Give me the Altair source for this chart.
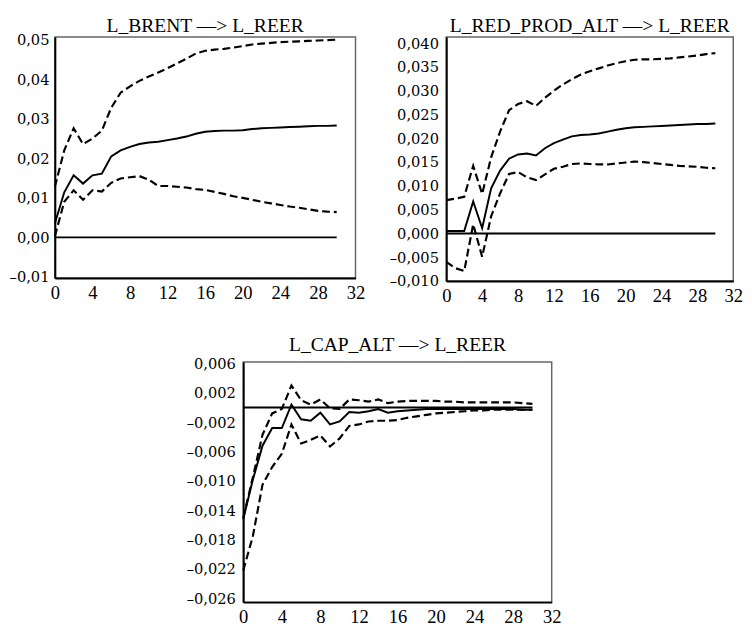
import altair as alt
import pandas as pd

FONT = "Liberation Serif"
YFONT = "DejaVu Serif"
steps = list(range(31))
x_ticks = [0, 4, 8, 12, 16, 20, 24, 28, 32]

# Panel 1: L_BRENT -> L_REER
brent_title = "L_BRENT —> L_REER"
brent_irf = [0.0035, 0.0114, 0.0157, 0.0136, 0.0157, 0.0161, 0.0205, 0.0220, 0.0229, 0.0236,
             0.0240, 0.0242, 0.0246, 0.0250, 0.0255, 0.0262, 0.0267, 0.0269, 0.0270, 0.0270,
             0.0271, 0.0274, 0.0276, 0.0277, 0.0278, 0.0279, 0.0280, 0.0281, 0.0282, 0.0282, 0.0283]
brent_hi = [0.0128, 0.0220, 0.0276, 0.0236, 0.0250, 0.0270, 0.0328, 0.0366, 0.0382, 0.0396,
            0.0407, 0.0417, 0.0428, 0.0440, 0.0452, 0.0465, 0.0472, 0.0475, 0.0477, 0.0480,
            0.0484, 0.0488, 0.0490, 0.0492, 0.0494, 0.0495, 0.0496, 0.0497, 0.0498, 0.0499, 0.0500]
brent_lo = [0.0003, 0.0090, 0.0119, 0.0095, 0.0119, 0.0116, 0.0138, 0.0149, 0.0152, 0.0155,
            0.0146, 0.0130, 0.0130, 0.0128, 0.0126, 0.0122, 0.0120, 0.0115, 0.0110, 0.0104,
            0.0100, 0.0095, 0.0090, 0.0086, 0.0082, 0.0078, 0.0075, 0.0071, 0.0067, 0.0065, 0.0064]
brent_yticks = [-0.01, 0.0, 0.01, 0.02, 0.03, 0.04, 0.05]

# Panel 2: L_RED_PROD_ALT -> L_REER
prod_title = "L_RED_PROD_ALT —> L_REER"
prod_irf = [0.0005, 0.0005, 0.0005, 0.0067, 0.0011, 0.0095, 0.0132, 0.0157, 0.0166, 0.0168,
            0.0164, 0.0179, 0.0190, 0.0197, 0.0204, 0.0207, 0.0208, 0.0210, 0.0214, 0.0218,
            0.0221, 0.0223, 0.0224, 0.0225, 0.0226, 0.0227, 0.0228, 0.0229, 0.0230, 0.0230, 0.0231]
prod_hi = [0.0070, 0.0073, 0.0077, 0.0142, 0.0083, 0.0160, 0.0214, 0.0259, 0.0272, 0.0278,
           0.0268, 0.0285, 0.0300, 0.0313, 0.0324, 0.0334, 0.0341, 0.0347, 0.0353, 0.0358,
           0.0362, 0.0365, 0.0366, 0.0366, 0.0367, 0.0368, 0.0370, 0.0372, 0.0374, 0.0377, 0.0379]
prod_lo = [-0.0060, -0.0073, -0.0079, 0.0019, -0.0049, 0.0036, 0.0084, 0.0125, 0.0129, 0.0118,
           0.0112, 0.0124, 0.0136, 0.0140, 0.0146, 0.0147, 0.0146, 0.0145, 0.0145, 0.0147,
           0.0149, 0.0151, 0.0150, 0.0148, 0.0146, 0.0144, 0.0142, 0.0141, 0.0140, 0.0138, 0.0137]
prod_yticks = [-0.010, -0.005, 0.0, 0.005, 0.010, 0.015, 0.020, 0.025, 0.030, 0.035, 0.040]

# Panel 3: L_CAP_ALT -> L_REER
cap_title = "L_CAP_ALT —> L_REER"
cap_irf = [-0.0152, -0.0098, -0.0052, -0.0028, -0.0028, 0.0004, -0.0016, -0.0018, -0.0007, -0.0023,
           -0.0019, -0.0006, -0.0007, -0.0005, -0.0002, -0.0007, -0.0005, -0.0004, -0.0003, -0.0002,
           -0.0002, -0.0002, -0.0002, -0.0002, -0.0002, -0.0002, -0.0002, -0.0002, -0.0002, -0.0003, -0.0003]
cap_hi = [-0.0150, -0.0095, -0.0037, -0.0008, -0.0002, 0.0030, 0.0010, 0.0004, 0.0011, -0.0001,
          -0.0002, 0.0011, 0.0010, 0.0008, 0.0011, 0.0006, 0.0008, 0.0009, 0.0009, 0.0009,
          0.0009, 0.0008, 0.0008, 0.0007, 0.0007, 0.0007, 0.0007, 0.0007, 0.0007, 0.0006, 0.0005]
cap_lo = [-0.0222, -0.0175, -0.0105, -0.0081, -0.0063, -0.0023, -0.0049, -0.0044, -0.0038, -0.0053,
          -0.0042, -0.0025, -0.0023, -0.0019, -0.0018, -0.0018, -0.0017, -0.0014, -0.0012, -0.0010,
          -0.0008, -0.0007, -0.0006, -0.0005, -0.0004, -0.0004, -0.0003, -0.0003, -0.0003, -0.0003, -0.0003]
cap_yticks = [-0.026, -0.022, -0.018, -0.014, -0.010, -0.006, -0.002, 0.002, 0.006]


def panel(title, irf, lo, hi, ydom, yticks, decimals, width, height, ypad, title_y):
    df = pd.DataFrame({
        "t": steps * 3,
        "v": irf + lo + hi,
        "s": ["irf"] * len(steps) + ["lo"] * len(steps) + ["hi"] * len(steps),
    })
    xs = alt.Scale(domain=[0, 32], nice=False, zero=False)
    ys = alt.Scale(domain=ydom, nice=False, zero=False)
    xa = alt.Axis(values=x_ticks, title=None, labelFont=FONT, labelFontSize=19, labelFlush=False,
                  labelPadding=6, format="d", labelOverlap=False)
    ya = alt.Axis(values=yticks, title=None, labelFont=YFONT, labelFontSize=15, labelPadding=ypad,
                  labelOverlap=False,
                  labelExpr="replace(replace(format(datum.value, '.%df'), '.', ','), '\u2212', '\u2013')" % decimals)
    x = alt.X("t:Q", scale=xs, axis=xa)
    y = alt.Y("v:Q", scale=ys, axis=ya)
    base = alt.Chart(df)
    one = pd.DataFrame({"a": [0]})
    zero = alt.Chart(one).mark_rule(color="black", strokeWidth=2).encode(
        x=alt.X(datum=0, scale=xs, axis=xa), x2=alt.datum(30),
        y=alt.Y(datum=0, scale=ys, axis=ya))
    bands = base.transform_filter("datum.s != 'irf'").mark_line(
        color="black", strokeWidth=2.2, strokeDash=[8, 4]).encode(x=x, y=y, detail="s:N")
    solid = base.transform_filter("datum.s == 'irf'").mark_line(
        color="black", strokeWidth=2).encode(x=x, y=y)
    head = alt.Chart(one).mark_text(
        text=title, font=FONT, fontSize=20, color="black", align="center", baseline="alphabetic"
    ).encode(x=alt.value(width / 2), y=alt.value(title_y))
    return alt.layer(zero, bands, solid, head).properties(width=width, height=height)


p1 = panel(brent_title, brent_irf, brent_lo, brent_hi, [-0.0103, 0.0507], brent_yticks, 2, 308, 247, 6, -5)
p2 = panel(prod_title, prod_irf, prod_lo, prod_hi, [-0.0100, 0.0413], prod_yticks, 3, 294, 250, 8, -5)
p3 = panel(cap_title, cap_irf, cap_lo, cap_hi, [-0.0265, 0.0062], cap_yticks, 3, 316, 246, 8, -11)

spacer = alt.Chart(pd.DataFrame({"a": [0]})).mark_point(opacity=0).encode(
    x=alt.X("a:Q", axis=None), y=alt.Y("a:Q", axis=None)
).properties(width=122, height=10, view=alt.ViewBackground(stroke=None))

top = alt.hconcat(p1, p2, spacing=22)
bottom = alt.hconcat(spacer, p3, spacing=11)
chart = alt.vconcat(top, bottom, spacing=29, padding=0).configure_view(
    stroke="#666666", strokeWidth=1.5
).configure_axis(
    domainColor="black", domainWidth=2, ticks=False, grid=False, labelColor="black"
)

chart.save("out.html", embed_options={"renderer": "svg", "actions": False})
